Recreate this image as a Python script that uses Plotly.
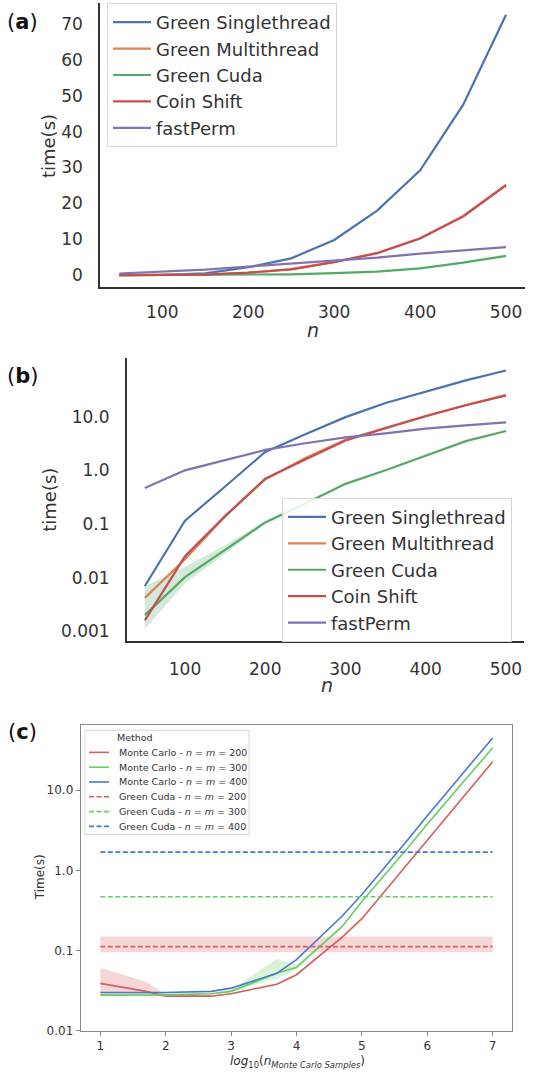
import numpy as np
import plotly.graph_objects as go

# ---------------- data: panels (a) and (b) ----------------
n_vals = [50, 100, 150, 200, 250, 300, 350, 400, 450, 500]
green_single = [0.007, 0.115, 0.5, 2.2, 4.7, 9.8, 18.0, 29.2, 47.4, 72.5]
green_multi = [0.0042, 0.022, 0.14, 0.68, 1.7, 3.7, 6.2, 10.3, 16.5, 25.2]
green_cuda = [0.002, 0.0102, 0.033, 0.107, 0.24, 0.56, 1.0, 1.9, 3.5, 5.4]
green_cuda_lo = [0.0011, 0.0078, 0.028, 0.100, 0.23, 0.54, 0.97, 1.85, 3.4, 5.25]
green_cuda_hi = [0.0069, 0.0160, 0.040, 0.115, 0.25, 0.58, 1.03, 1.95, 3.6, 5.55]
coin_shift = [0.0016, 0.025, 0.14, 0.70, 1.6, 3.6, 6.1, 10.2, 16.3, 25.0]
fast_perm = [0.47, 1.0, 1.55, 2.4, 3.2, 4.1, 4.9, 6.0, 6.9, 7.8]

series_names = ["Green Singlethread", "Green Multithread", "Green Cuda", "Coin Shift", "fastPerm"]
series_values = [green_single, green_multi, green_cuda, coin_shift, fast_perm]
deep_colors = ["#4C72B0", "#DD8452", "#55A868", "#C44E52", "#8172B3"]

a_yticks = [0, 10, 20, 30, 40, 50, 60, 70]
ab_xticks = [100, 200, 300, 400, 500]
b_yticks = [0.001, 0.01, 0.1, 1, 10]
b_yticklabels = ["0.001", "0.01", "0.1", "1.0", "10.0"]

# ---------------- data: panel (c) ----------------
mc_samples = [10, 50, 100, 500, 1e3, 5e3, 1e4, 5e4, 1e5, 5e5, 1e6, 5e6, 1e7]
mc_200 = [0.039, 0.031, 0.027, 0.027, 0.029, 0.038, 0.050, 0.147, 0.25, 1.2, 2.4, 11.5, 22.7]
mc_200_lo = [0.028, 0.028, 0.0265, 0.0265, 0.0285, 0.037, 0.049, 0.144, 0.245, 1.18, 2.36, 11.3, 22.3]
mc_200_hi = [0.061, 0.041, 0.0285, 0.0275, 0.0295, 0.039, 0.051, 0.150, 0.255, 1.22, 2.44, 11.7, 23.1]
mc_300 = [0.0278, 0.028, 0.028, 0.029, 0.031, 0.052, 0.062, 0.20, 0.41, 1.9, 3.8, 17.5, 34.0]
mc_300_lo = [0.027, 0.027, 0.027, 0.0285, 0.0305, 0.045, 0.058, 0.196, 0.40, 1.87, 3.74, 17.2, 33.4]
mc_300_hi = [0.0285, 0.029, 0.029, 0.0295, 0.0325, 0.079, 0.066, 0.204, 0.42, 1.93, 3.86, 17.8, 34.6]
mc_400 = [0.030, 0.030, 0.030, 0.031, 0.034, 0.052, 0.077, 0.27, 0.50, 2.4, 4.8, 23.0, 45.0]
cuda_200 = 0.112
cuda_200_lo = 0.095
cuda_200_hi = 0.15
cuda_300 = 0.47
cuda_400 = 1.69

c_legend_title = "Method"
c_labels_mc = ["Monte Carlo - <i>n</i> = <i>m</i> = 200",
               "Monte Carlo - <i>n</i> = <i>m</i> = 300",
               "Monte Carlo - <i>n</i> = <i>m</i> = 400"]
c_labels_cuda = ["Green Cuda - <i>n</i> = <i>m</i> = 200",
                 "Green Cuda - <i>n</i> = <i>m</i> = 300",
                 "Green Cuda - <i>n</i> = <i>m</i> = 400"]
muted_colors = ["#D65F5F", "#6ACC64", "#4878D0"]
c_xticks = [1, 2, 3, 4, 5, 6, 7]
c_yticks = [0.01, 0.1, 1, 10]
c_yticklabels = ["0.01", "0.1", "1.0", "10.0"]

W, H = 544, 1075
FONT = "DejaVu Sans"
TXT = "#333333"
DASH = "5px,2.5px"


def xd(l, r):
    return [l / W, r / W]


def yd(top, bottom):
    return [1 - bottom / H, 1 - top / H]


def px(x):
    return x / W


def py(y):
    return 1 - y / H


def rgba(hexc, a):
    h = hexc.lstrip("#")
    return "rgba(%d,%d,%d,%.2f)" % (int(h[0:2], 16), int(h[2:4], 16), int(h[4:6], 16), a)


fig = go.Figure()

# ---- panel (a) ----
for name, vals, col in zip(series_names, series_values, deep_colors):
    fig.add_trace(go.Scatter(x=n_vals, y=vals, mode="lines", name=name,
                             line=dict(color=col, width=2.2),
                             xaxis="x", yaxis="y", legend="legend"))

# ---- panel (b) ----
fig.add_trace(go.Scatter(x=n_vals + n_vals[::-1], y=green_cuda_hi + green_cuda_lo[::-1],
                         fill="toself", fillcolor=rgba(deep_colors[2], 0.25),
                         line=dict(width=0), mode="lines", hoverinfo="skip",
                         showlegend=False, xaxis="x2", yaxis="y2"))
for name, vals, col in zip(series_names, series_values, deep_colors):
    fig.add_trace(go.Scatter(x=n_vals, y=vals, mode="lines", name=name,
                             line=dict(color=col, width=2.2),
                             xaxis="x2", yaxis="y2", legend="legend2"))

# ---- panel (c) ----
xc = list(np.log10(mc_samples))
band_sets = [(mc_200_lo, mc_200_hi, muted_colors[0]), (mc_300_lo, mc_300_hi, muted_colors[1])]
for lo, hi, col in band_sets:
    fig.add_trace(go.Scatter(x=xc + xc[::-1], y=hi + lo[::-1], fill="toself",
                             fillcolor=rgba(col, 0.25), line=dict(width=0), mode="lines",
                             hoverinfo="skip", showlegend=False, xaxis="x3", yaxis="y3"))
fig.add_trace(go.Scatter(x=[xc[0], xc[-1], xc[-1], xc[0]],
                         y=[cuda_200_hi, cuda_200_hi, cuda_200_lo, cuda_200_lo],
                         fill="toself", fillcolor=rgba(muted_colors[0], 0.25),
                         line=dict(width=0), mode="lines", hoverinfo="skip",
                         showlegend=False, xaxis="x3", yaxis="y3"))
for lab, vals, col in zip(c_labels_mc, [mc_200, mc_300, mc_400], muted_colors):
    fig.add_trace(go.Scatter(x=xc, y=vals, mode="lines", name=lab,
                             line=dict(color=col, width=1.6), showlegend=False,
                             xaxis="x3", yaxis="y3"))
for lab, v, col in zip(c_labels_cuda, [cuda_200, cuda_300, cuda_400], muted_colors):
    fig.add_trace(go.Scatter(x=[xc[0], xc[-1]], y=[v, v], mode="lines", name=lab,
                             line=dict(color=col, width=1.6, dash=DASH), showlegend=False,
                             xaxis="x3", yaxis="y3"))

ab_axis = dict(showgrid=False, zeroline=False, showline=True, linecolor="#333333",
               linewidth=1.6, ticks="", tickfont=dict(family=FONT, size=17, color=TXT))

fig.update_layout(
    width=W, height=H, margin=dict(l=0, r=0, t=0, b=0),
    paper_bgcolor="white", plot_bgcolor="white",
    font=dict(family=FONT, color=TXT),
    xaxis=dict(ab_axis, domain=xd(100, 525.4), range=[27.5, 522.5], anchor="y",
               tickvals=ab_xticks, ticklabelstandoff=9),
    yaxis=dict(ab_axis, domain=yd(3, 289), range=[-3.32, 75.8], anchor="x",
               tickvals=a_yticks, ticklabelstandoff=12),
    xaxis2=dict(ab_axis, domain=xd(126.8, 524), range=[27.5, 522.5], anchor="y2",
                tickvals=ab_xticks, ticklabelstandoff=11),
    yaxis2=dict(ab_axis, domain=yd(360, 645.7), type="log", range=[-3.19, 2.10], anchor="x2",
                tickvals=b_yticks, ticktext=b_yticklabels, ticklabelstandoff=12),
    xaxis3=dict(domain=xd(80.7, 512.3), range=[0.7, 7.3], anchor="y3",
                showgrid=False, zeroline=False, showline=True, mirror=True,
                linecolor="#888888", linewidth=1, ticks="outside", ticklen=4,
                tickcolor="#888888", tickvals=c_xticks,
                tickfont=dict(family=FONT, size=12, color=TXT)),
    yaxis3=dict(domain=yd(729.3, 1037.5), type="log", range=[-2, 1.82], anchor="x3",
                showgrid=False, zeroline=False, showline=True, mirror=True,
                linecolor="#888888", linewidth=1, ticks="outside", ticklen=4,
                tickcolor="#888888", tickvals=c_yticks, ticktext=c_yticklabels,
                tickfont=dict(family=FONT, size=12, color=TXT)),
    legend=dict(x=107 / W, y=1 - 3 / H, xanchor="left", yanchor="top",
                bgcolor="rgba(255,255,255,0.85)", bordercolor="#d6d6d6", borderwidth=1,
                font=dict(family=FONT, size=18, color=TXT), itemwidth=38,
                traceorder="normal"),
    legend2=dict(x=282 / W, y=1 - 501 / H, xanchor="left", yanchor="top",
                 bgcolor="rgba(255,255,255,0.85)", bordercolor="#d6d6d6", borderwidth=1,
                 font=dict(family=FONT, size=18, color=TXT), itemwidth=38,
                 traceorder="normal"),
)

# ---- panel (c) legend, drawn compactly like matplotlib's ----
leg_left, leg_top, leg_right, leg_bottom = 85, 735, 249, 840
fig.add_shape(type="rect", xref="paper", yref="paper",
              x0=px(leg_left), x1=px(leg_right), y0=py(leg_bottom), y1=py(leg_top),
              fillcolor="rgba(255,255,255,0.85)", line=dict(color="#d6d6d6", width=1),
              layer="above")
fig.add_annotation(text=c_legend_title, x=px(135), y=py(742), xref="paper", yref="paper",
                   xanchor="center", yanchor="middle", showarrow=False,
                   font=dict(family=FONT, size=9.5, color=TXT))
entries = [(lab, col, "solid") for lab, col in zip(c_labels_mc, muted_colors)] + \
          [(lab, col, DASH) for lab, col in zip(c_labels_cuda, muted_colors)]
for i, (lab, col, dash) in enumerate(entries):
    yy = 757.3 + i * 14.9
    fig.add_shape(type="line", xref="paper", yref="paper", x0=px(89), x1=px(109),
                  y0=py(yy), y1=py(yy), line=dict(color=col, width=1.6, dash=dash),
                  layer="above")
    fig.add_annotation(text=lab, x=px(117), y=py(yy), xref="paper", yref="paper",
                       xanchor="left", yanchor="middle", showarrow=False,
                       font=dict(family=FONT, size=9.5, color=TXT))

annos = [
    dict(text="(<b>a</b>)", x=22, y=22, size=21, angle=0, color="#111111"),
    dict(text="(<b>b</b>)", x=22, y=378, size=21, angle=0, color="#111111"),
    dict(text="(<b>c</b>)", x=22, y=737, size=21, angle=0, color="#111111"),
    dict(text="time(s)", x=48, y=147, size=18, angle=-90, color=TXT),
    dict(text="<i>n</i>", x=313, y=332, size=19, angle=0, color=TXT),
    dict(text="time(s)", x=50, y=503, size=18, angle=-90, color=TXT),
    dict(text="<i>n</i>", x=327, y=689, size=19, angle=0, color=TXT),
    dict(text="Time(s)", x=40, y=883, size=12, angle=-90, color=TXT),
    dict(text="<i>log</i><sub>10</sub>(<i>n<sub>Monte Carlo Samples</sub></i>)", x=297, y=1069,
         size=12, angle=0, color=TXT),
]
for a in annos:
    fig.add_annotation(text=a["text"], x=px(a["x"]), y=py(a["y"]), xref="paper", yref="paper",
                       xanchor="center", yanchor="middle", showarrow=False, textangle=a["angle"],
                       font=dict(family=FONT, size=a["size"], color=a["color"]))

fig.write_html("out.html")
